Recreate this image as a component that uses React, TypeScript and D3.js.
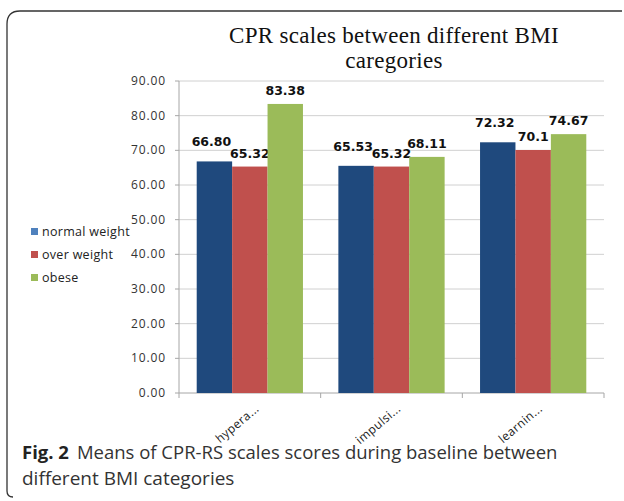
import React from "react";
import * as d3 from "d3";

const categories = ["hypera...", "impulsi...", "learnin..."];
const seriesNames = ["normal weight", "over weight", "obese"];
const normalWeight = [66.8, 65.53, 72.32];
const overWeight = [65.32, 65.32, 70.1];
const obese = [83.38, 68.11, 74.67];
const valueLabels = [
  ["66.80", "65.53", "72.32"],
  ["65.32", "65.32", "70.1"],
  ["83.38", "68.11", "74.67"],
];
const yTicks = [0, 10, 20, 30, 40, 50, 60, 70, 80, 90];

const barColors = ["#1F497D", "#C0504D", "#9BBB59"];
const legendColors = ["#4F81BD", "#C0504D", "#9BBB59"];
const labelLift = [15, 9, 9];

export default function App() {
  const W = 624, H = 501;
  const left = 179, right = 604, top = 81, bottom = 393;
  const series = [normalWeight, overWeight, obese];

  const y = d3.scaleLinear().domain([0, 90]).range([bottom, top]);
  const x0 = d3.scaleBand<string>().domain(categories).range([left, right]).paddingInner(0).paddingOuter(0);
  const x1 = d3
    .scaleBand<number>()
    .domain([0, 1, 2])
    .range([0, x0.bandwidth()])
    .paddingOuter(0.5)
    .paddingInner(0);

  const tickFont = "'Open Sans', sans-serif";

  return (
    <svg width={W} height={H} style={{ position: "absolute", left: 0, top: 0, background: "#fff" }}>
      <rect width={W} height={H} fill="#fff" />
      <path d="M13,497 Q7,497 7,491 L7,24 Q7,11 20,11 L622,11" fill="none" stroke="#333" strokeWidth={1.3} />

      <text x={394} y={43} textAnchor="middle" fontFamily="'Liberation Serif', serif" fontSize={23} letterSpacing={0.3} fill="#111">
        CPR scales between different BMI
      </text>
      <text x={394} y={68} textAnchor="middle" fontFamily="'Liberation Serif', serif" fontSize={23} letterSpacing={0.3} fill="#111">
        caregories
      </text>

      {/* gridlines */}
      {yTicks.map((t) => (
        <line key={"g" + t} x1={left} x2={right} y1={y(t)} y2={y(t)} stroke={t === 0 ? "#a6a6a6" : "#d0d0d0"} strokeWidth={1} />
      ))}
      {/* y axis */}
      <line x1={left} x2={left} y1={top} y2={bottom} stroke="#a6a6a6" />
      {yTicks.map((t) => (
        <g key={"t" + t}>
          <line x1={left - 4} x2={left} y1={y(t)} y2={y(t)} stroke="#a6a6a6" />
          <text x={166} y={y(t) + 4} textAnchor="end" fontFamily={tickFont} fontSize={12} letterSpacing={0.9} fill="#333">
            {t.toFixed(2)}
          </text>
        </g>
      ))}
      {/* x category ticks */}
      {[0, 1, 2, 3].map((i) => (
        <line key={"xt" + i} x1={left + i * x0.bandwidth()} x2={left + i * x0.bandwidth()} y1={bottom} y2={bottom + 5} stroke="#a6a6a6" />
      ))}

      {/* bars */}
      {categories.map((c, ci) => (
        <g key={c}>
          {series.map((s, si) => {
            const bx = (x0(c) as number) + (x1(si) as number);
            return (
              <g key={si}>
                <rect x={bx} y={y(s[ci])} width={x1.bandwidth()} height={bottom - y(s[ci])} fill={barColors[si]} />
                <text
                  x={bx + x1.bandwidth() / 2 - (si === 0 ? 3 : 0)}
                  y={y(s[ci]) - labelLift[si]}
                  textAnchor="middle"
                  fontFamily="'DejaVu Sans', sans-serif"
                  fontWeight="bold"
                  fontSize={12.5}
                  fill="#111"
                >
                  {valueLabels[si][ci]}
                </text>
              </g>
            );
          })}
          <text
            transform={`translate(${(x0(c) as number) + x0.bandwidth() / 2 + 10},${bottom + 17}) rotate(-40)`}
            textAnchor="end"
            fontFamily={tickFont}
            fontSize={12}
            letterSpacing={0.4}
            fill="#222"
          >
            {c}
          </text>
        </g>
      ))}

      {/* legend */}
      {seriesNames.map((n, i) => (
        <g key={n}>
          <rect x={31} y={228 + i * 23} width={7} height={7} fill={legendColors[i]} />
          <text x={42} y={236 + i * 23} fontFamily={tickFont} fontSize={12.5} letterSpacing={0.3} fill="#222">
            {n}
          </text>
        </g>
      ))}

      {/* caption */}
      <text x={22} y={459} fontFamily="'Open Sans', sans-serif" fontSize={18.5} fill="#333">
        <tspan fontWeight="bold" fill="#222">Fig. 2</tspan>
        <tspan dx={8}>Means of CPR-RS scales scores during baseline between</tspan>
      </text>
      <text x={22} y={485} fontFamily="'Open Sans', sans-serif" fontSize={19} fill="#333">
        different BMI categories
      </text>
    </svg>
  );
}
